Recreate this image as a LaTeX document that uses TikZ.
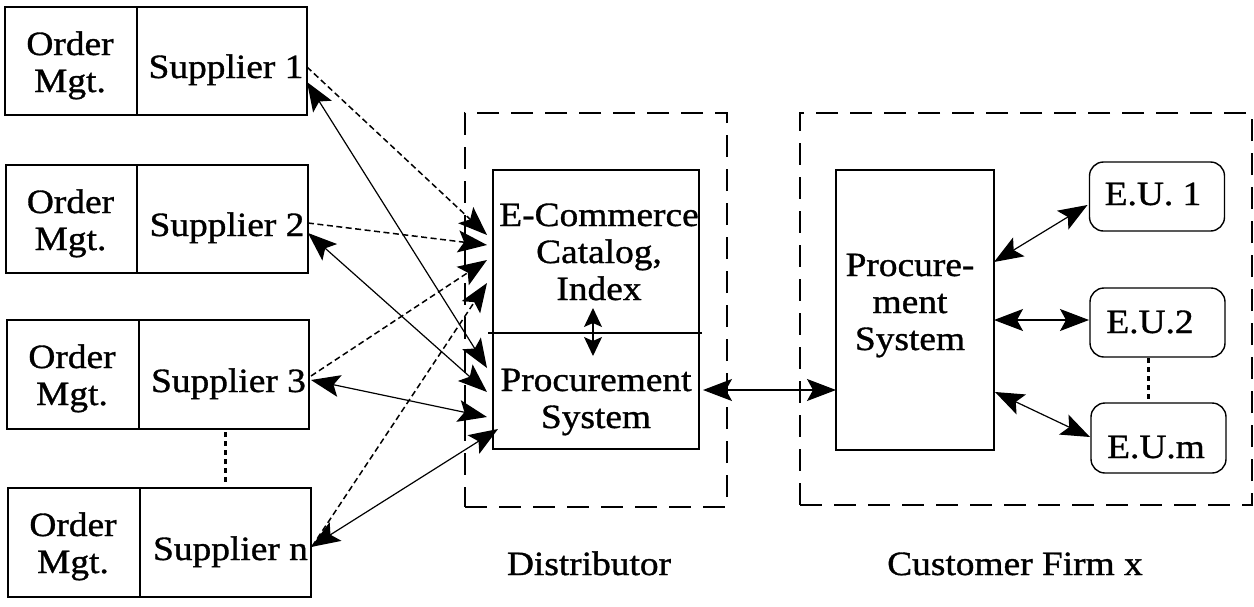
\documentclass[tikz,border=0pt]{standalone}
\usepackage{fontspec}
\setmainfont{Liberation Serif}[FakeStretch=1.1,FakeBold=1]
\usetikzlibrary{arrows.meta,calc}
\begin{document}
\begin{tikzpicture}[x=1pt,y=-1pt,
  >={Stealth[length=29pt,width=22pt,inset=6pt]},
  box/.style={draw,line width=1.4pt,rectangle,inner sep=0pt,outer sep=0pt},
  rbox/.style={box,rounded corners=14pt},
  grp/.style={draw,line width=2.4pt,dash pattern=on 22pt off 12pt,inner sep=0pt,outer sep=0pt},
  txt/.style={inner sep=0pt,align=center,anchor=base,font=\fontsize{34}{37}\selectfont},
  conn/.style={line width=1.2pt},
  dconn/.style={line width=1.5pt,dash pattern=on 6pt off 3.5pt},
  dotline/.style={line width=3pt,dash pattern=on 5pt off 4pt},
  smalltips/.style={line width=1.2pt,{Stealth[length=19pt,width=18pt,inset=4pt]}-{Stealth[length=19pt,width=18pt,inset=4pt]}}
]
\useasboundingbox (0,0) rectangle (1254,606);

% supplier boxes
\node[box,minimum width=132pt,minimum height=108pt] (ord1) at (71,61) {};
\node[box,minimum width=170pt,minimum height=108pt] (sup1) at (222,61) {};
\node[box,minimum width=131pt,minimum height=108pt] (ord2) at (71.5,219) {};
\node[box,minimum width=171pt,minimum height=108pt] (sup2) at (222.5,219) {};
\node[box,minimum width=132pt,minimum height=109pt] (ord3) at (73,374.5) {};
\node[box,minimum width=170pt,minimum height=109pt] (sup3) at (224,374.5) {};
\node[box,minimum width=132pt,minimum height=109pt] (ordn) at (74,542.5) {};
\node[box,minimum width=171pt,minimum height=109pt] (supn) at (225.5,542.5) {};

% multi-line texts: anchor=base is the baseline of the last line
\node[txt] (tord1) at (70,92) {Order\\Mgt.};
\node[txt] (tsup1) at (226,78) {Supplier 1};
\node[txt] (tord2) at (70.5,250) {Order\\Mgt.};
\node[txt] (tsup2) at (227,236) {Supplier 2};
\node[txt] (tord3) at (72,405) {Order\\Mgt.};
\node[txt] (tsup3) at (228.5,392) {Supplier 3};
\node[txt] (tordn) at (73,573) {Order\\Mgt.};
\node[txt] (tsupn) at (230.5,560) {Supplier n};

\draw[dotline] ($(sup3.south)+(1,3)$) -- ($(supn.north)+(-0.5,-6)$);

% distributor
\node[grp,minimum width=262pt,minimum height=394pt] (dist) at (596,310) {};
\node[box,minimum width=206pt,minimum height=163pt] (cat) at (596,251.5) {};
\node[box,minimum width=206pt,minimum height=116pt] (proc) at (596,391) {};
\draw[line width=1.4pt] ($(cat.south west)+(-5,0)$) -- ($(cat.south east)+(3,0)$);
\node[txt] (tcat) at (599,300) {E-Commerce\\Catalog,\\Index};
\node[txt] (tproc) at (596,428) {Procurement\\System};
\draw[smalltips] ($(cat.south)+(-3,-25)$) -- ($(cat.south)+(-3,23)$);
\node[txt] (tdist) at (589,575) {Distributor};

% customer firm
\node[grp,minimum width=452pt,minimum height=392pt] (cust) at (1026,309) {};
\node[box,minimum width=158pt,minimum height=280pt] (cproc) at (915,310) {};
\node[txt] (tcproc) at (910,350) {Procure-\\ment\\System};
\node[rbox,minimum width=135pt,minimum height=69pt] (eu1) at (1157,196.5) {};
\node[rbox,minimum width=135pt,minimum height=69pt] (eu2) at (1157.5,322.5) {};
\node[rbox,minimum width=135pt,minimum height=70pt] (eum) at (1158.5,438) {};
\node[txt] (teu1) at (1153,205) {E.U. 1};
\node[txt] (teu2) at (1150,333) {E.U.2};
\node[txt] (teum) at (1156,458) {E.U.m};
\draw[dotline] ($(eu2.south)+(-9.5,1)$) -- ($(eum.north)+(-10.5,-4)$);
\node[txt] (tcust) at (1015,575) {Customer Firm x};

% customer connectors
\draw[conn,<->] ($(cproc.east)+(0,-48)$) -- ($(eu1.west)+(-2,8.5)$);
\draw[conn,<->] ($(cproc.east)+(0,10)$) -- ($(eu2.west)+(-1,-2.5)$);
\draw[conn,<->] ($(cproc.east)+(1,82)$) -- ($(eum.west)+(-1,-1)$);

% distributor to customer
\draw[conn,<->] ($(proc.east)+(4,-1)$) -- ($(cproc.west)+(0,80)$);

% supplier to catalog (dashed)
\draw[dconn,->] ($(sup1.east)+(0,6)$) -- ($(cat.west)+(-6,-16.5)$);
\draw[dconn,->] ($(sup2.east)+(0,4)$) -- ($(cat.west)+(-6,-6.5)$);
\draw[dconn,->] ($(sup3.east)+(2,1.5)$) -- ($(cat.west)+(-6,8.5)$);
\draw[dconn,->] ($(supn.east)+(1,4)$) -- ($(cat.west)+(-6,31.5)$);

% supplier to procurement (solid)
\draw[conn,<->] ($(sup1.east)+(0,21)$) -- ($(proc.west)+(-6,-23)$);
\draw[conn,<->] ($(sup2.east)+(0,14)$) -- ($(proc.west)+(-6,1)$);
\draw[conn,<->] ($(sup3.east)+(2,5.5)$) -- ($(proc.west)+(-6,26)$);
\draw[conn,<->] ($(supn.east)+(0,4.5)$) -- ($(proc.west)+(5,38)$);
\end{tikzpicture}
\end{document}
